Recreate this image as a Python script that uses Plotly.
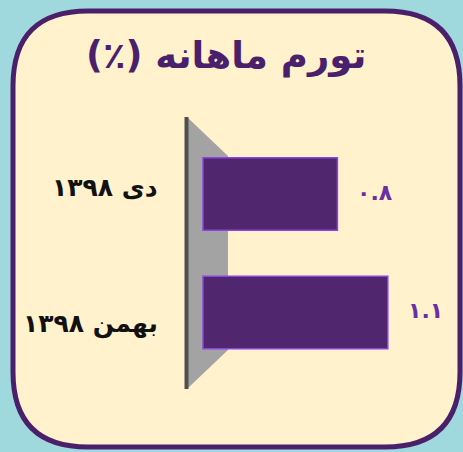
import plotly.graph_objects as go

# --- data ---
categories = ["دی ۱۳۹۸", "بهمن ۱۳۹۸"]
values = [0.8, 1.1]
title_text = "تورم ماهانه (٪)"

W, H = 463, 452
FA_DIGITS = str.maketrans("0123456789", "۰۱۲۳۴۵۶۷۸۹")
RLE, PDF = "\u202b", "\u202c"


def rtl(s):
    return RLE + s + PDF


def px(x, y):
    # pixel -> paper coords
    return x / W, 1 - y / H


def path_from_pixels(points):
    parts = []
    for cmd, pts in points:
        coords = " ".join(f"{px(x, y)[0]:.5f},{px(x, y)[1]:.5f}" for x, y in pts)
        parts.append(f"{cmd} {coords}")
    return " ".join(parts) + " Z"


def rounded_rect(x0, y0, x1, y1, r):
    return path_from_pixels([
        ("M", [(x0 + r, y0)]),
        ("L", [(x1 - r, y0)]),
        ("Q", [(x1, y0), (x1, y0 + r)]),
        ("L", [(x1, y1 - r)]),
        ("Q", [(x1, y1), (x1 - r, y1)]),
        ("L", [(x0 + r, y1)]),
        ("Q", [(x0, y1), (x0, y1 - r)]),
        ("L", [(x0, y0 + r)]),
        ("Q", [(x0, y0), (x0 + r, y0)]),
    ])


fig = go.Figure()

fig.add_trace(
    go.Bar(
        x=values,
        y=categories,
        orientation="h",
        width=0.612,
        marker=dict(color="#50266f", line=dict(color="#8c45de", width=1.5)),
        hoverinfo="skip",
    )
)

shapes = [
    # card
    dict(type="path", xref="paper", yref="paper", layer="below",
         path=rounded_rect(13, 11, 460, 447, 75),
         fillcolor="#fff2cc", line=dict(color="#4a206a", width=5)),
    # grey wall
    dict(type="path", xref="paper", yref="paper", layer="below",
         path=path_from_pixels([("M", [(188, 118)]), ("L", [(228, 156)]),
                                ("L", [(228, 350)]), ("L", [(188, 388)])]),
         fillcolor="#a3a3a3", line=dict(width=0)),
    dict(type="line", xref="paper", yref="paper", layer="below",
         x0=186.5 / W, x1=186.5 / W, y0=1 - 117 / H, y1=1 - 389 / H,
         line=dict(color="#4f4f4f", width=4)),
]

annotations = [
    dict(text=f"<b>{rtl(title_text)}</b>", xref="paper", yref="paper",
         x=226 / W, y=1 - 56 / H, xanchor="center", yanchor="middle",
         showarrow=False, font=dict(size=37, color="#4a1f6b")),
]

label_shift = [7, -11]
for cat, shift in zip(categories, label_shift):
    annotations.append(dict(
        text=f"<b>{rtl(cat)}</b>", xref="paper", yref="y", x=160 / W, y=cat,
        xanchor="right", yanchor="middle", yshift=shift, showarrow=False,
        font=dict(size=25, color="#111111")))

for cat, v in zip(categories, values):
    annotations.append(dict(
        text=f"<b>{str(v).translate(FA_DIGITS)}</b>", xref="x", yref="y",
        x=v, y=cat, xanchor="left", yanchor="middle", xshift=18, yshift=2,
        showarrow=False, font=dict(size=22, color="#6a2fa0")))

fig.update_layout(
    width=W,
    height=H,
    margin=dict(l=0, r=0, t=0, b=0),
    paper_bgcolor="#9fd9de",
    plot_bgcolor="rgba(0,0,0,0)",
    font=dict(family="DejaVu Sans"),
    showlegend=False,
    shapes=shapes,
    annotations=annotations,
    xaxis=dict(range=[-203 / 168, 260 / 168], visible=False, fixedrange=True),
    yaxis=dict(type="category", categoryorder="array", categoryarray=categories,
               range=[2.177, -1.637], visible=False, fixedrange=True),
)

fig.write_html("out.html", config={"displayModeBar": False},
               post_script="document.body.style.margin='0';")
